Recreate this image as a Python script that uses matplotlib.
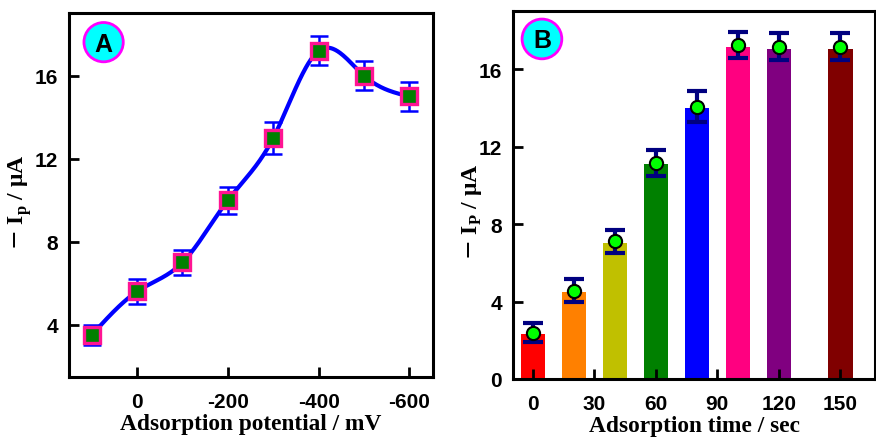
import numpy as np
import matplotlib.pyplot as plt
from matplotlib.patches import Ellipse

# --- data ---
potential = [100, 0, -100, -200, -300, -400, -500, -600]
ip_pot = [3.5, 5.6, 7.0, 10.0, 13.0, 17.2, 16.0, 15.0]
err_pot = [0.5, 0.6, 0.6, 0.65, 0.75, 0.7, 0.7, 0.7]

times = [0, 20, 40, 60, 80, 100, 120, 150]
ip_bar = [2.3, 4.47, 7.0, 11.1, 13.97, 17.15, 17.06, 17.06]
ip_mean = [2.4, 4.55, 7.1, 11.15, 14.05, 17.25, 17.15, 17.15]
err_time = [0.5, 0.6, 0.6, 0.65, 0.8, 0.68, 0.7, 0.7]
bar_colors = ['#ff0000', '#ff8000', '#c0c000', '#008000', '#0000ff', '#ff0080', '#800080', '#800000']

serif = ['Liberation Serif', 'DejaVu Serif']
sans = ['Liberation Sans', 'DejaVu Sans']


def natural_spline(x, y, n=400):
    x = np.asarray(x, float); y = np.asarray(y, float)
    order = np.argsort(x)
    x, y = x[order], y[order]
    h = np.diff(x)
    m = len(x)
    A = np.zeros((m, m)); r = np.zeros(m)
    A[0, 0] = A[-1, -1] = 1
    for i in range(1, m - 1):
        A[i, i - 1] = h[i - 1]
        A[i, i] = 2 * (h[i - 1] + h[i])
        A[i, i + 1] = h[i]
        r[i] = 6 * ((y[i + 1] - y[i]) / h[i] - (y[i] - y[i - 1]) / h[i - 1])
    M = np.linalg.solve(A, r)
    xs = np.linspace(x[0], x[-1], n)
    idx = np.clip(np.searchsorted(x, xs) - 1, 0, m - 2)
    x0, x1 = x[idx], x[idx + 1]
    hh = x1 - x0
    ys = (M[idx] * (x1 - xs) ** 3 / (6 * hh) + M[idx + 1] * (xs - x0) ** 3 / (6 * hh)
          + (y[idx] / hh - M[idx] * hh / 6) * (x1 - xs)
          + (y[idx + 1] / hh - M[idx + 1] * hh / 6) * (xs - x0))
    return xs, ys


def style_axes(ax):
    for s in ax.spines.values():
        s.set_linewidth(2.2)
    ax.tick_params(direction='in', length=7, width=2, top=False, right=False)
    ax.tick_params(axis='x', pad=11)
    ax.tick_params(axis='y', pad=8)
    for lab in ax.get_xticklabels() + ax.get_yticklabels():
        lab.set_family(sans)
        lab.set_fontweight('bold')
        lab.set_fontsize(15)


def panel_label(ax, x, y, txt):
    # circle label, kept round in pixels
    c = Ellipse((x, y), 0.108 * ax.bbox.height / ax.bbox.width, 0.108,
                transform=ax.transAxes, facecolor='#00ffff', edgecolor='#ff00ff', lw=2, zorder=5)
    ax.add_patch(c)
    ax.text(x, y - 0.004, txt, transform=ax.transAxes, ha='center', va='center',
            fontsize=18, fontweight='bold', family=sans, zorder=6)


fig = plt.figure(figsize=(8.76, 4.39), dpi=100)

# --- panel A ---
axA = fig.add_axes([0.0788, 0.139, 0.4155, 0.829])
xs, ys = natural_spline(potential, ip_pot)
axA.plot(xs, ys, color='#0000ff', lw=3, zorder=2)
axA.errorbar(potential, ip_pot, yerr=err_pot, fmt='none', ecolor='#0000ff',
             elinewidth=1.8, capsize=6.5, capthick=1.8, zorder=3)
axA.plot(potential, ip_pot, 's', ms=11.5, mfc='#008000', mec='#ff1493', mew=2.4, zorder=4)
axA.set_xlim(150, -652)
axA.set_ylim(1.48, 19.02)
axA.set_xticks([0, -200, -400, -600])
axA.set_xticklabels(['0', '-200', '-400', '-600'])
axA.set_yticks([4, 8, 12, 16])
style_axes(axA)
axA.set_xlabel('Adsorption potential / mV', family=serif, fontweight='bold', fontsize=16.8, labelpad=1)
axA.set_ylabel('$-$ I$_\\mathregular{p}$ / μA', family=serif, fontweight='bold', fontsize=17, va='center')
axA.yaxis.set_label_coords(-0.135, 0.483)
fig.canvas.draw()
panel_label(axA, 0.095, 0.92, 'A')

# --- panel B ---
axB = fig.add_axes([0.5856, 0.1344, 0.4134, 0.8383])
axB.bar(times, ip_bar, width=12, color=bar_colors, zorder=1)
axB.errorbar(times, ip_mean, yerr=err_time, fmt='none', ecolor='#000080',
             elinewidth=3, capsize=7.5, capthick=3, zorder=3)
axB.plot(times, ip_mean, 'o', ms=9.5, mfc='#00ff00', mec='black', mew=1.5, zorder=4)
axB.set_xlim(-9.75, 167)
axB.set_ylim(0, 19)
axB.set_xticks([0, 30, 60, 90, 120, 150])
axB.set_yticks([0, 4, 8, 12, 16])
style_axes(axB)
axB.set_xlabel('Adsorption time / sec', family=serif, fontweight='bold', fontsize=16.8, labelpad=1)
axB.set_ylabel('$-$ I$_\\mathregular{P}$ / μA', family=serif, fontweight='bold', fontsize=17, va='center')
axB.yaxis.set_label_coords(-0.112, 0.456)
panel_label(axB, 0.08, 0.924, 'B')

fig.savefig('out.png', dpi=100)
